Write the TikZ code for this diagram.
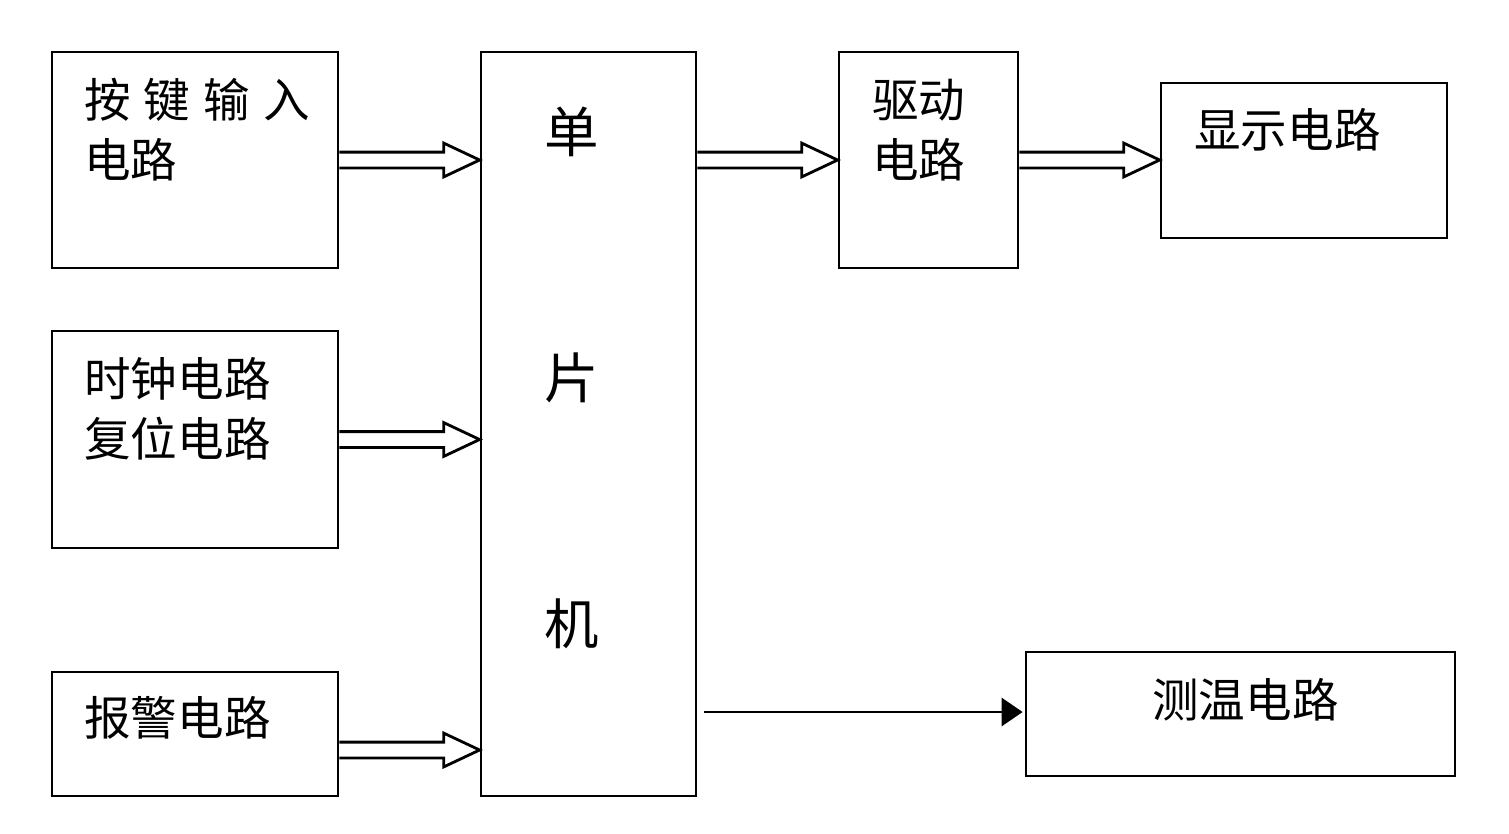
\documentclass[tikz,border=0pt]{standalone}
\usepackage{fontspec}
\newfontfamily\cn{Noto Sans CJK SC}
\usetikzlibrary{arrows.meta,calc}
\tikzset{box/.style={draw,line width=1.6pt,inner sep=0pt},
  txt/.style={inner sep=0pt,align=left,font=\cn\fontsize{26.5}{34}\selectfont},
  fat/.style={line width=1.6pt,line join=miter}}
% hollow block arrow from #1 to #2 (horizontal)
\newcommand\fatarrow[2]{\draw[fat] let \p1=(#1),\p2=(#2) in
  (\x1,\y1+4.5pt)--(\x2-20.4pt,\y1+4.5pt)--(\x2-20.4pt,\y1+9.6pt)--(\x2,\y1)
  --(\x2-20.4pt,\y1-9.6pt)--(\x2-20.4pt,\y1-4.5pt)--(\x1,\y1-4.5pt);}

\begin{document}
\begin{tikzpicture}[x=0.02cm,y=-0.02cm]
\useasboundingbox (0,0) rectangle (1509,833);
\node[box,minimum width=5.72cm,minimum height=4.32cm] (key) at (195,160){};
\node[box,minimum width=5.72cm,minimum height=4.34cm] (clk) at (195,439.5){};
\node[box,minimum width=5.72cm,minimum height=2.48cm] (alarm) at (195,734){};
\node[box,minimum width=4.3cm,minimum height=14.88cm] (mcu) at (588.5,424){};
\node[box,minimum width=3.58cm,minimum height=4.32cm] (drive) at (928.5,160){};
\node[box,minimum width=5.72cm,minimum height=3.1cm] (disp) at (1304,160.5){};
\node[box,minimum width=8.58cm,minimum height=2.48cm] (temp) at (1240.5,714){};
\node[txt,anchor=west] (keyt) at (84,130){按\hspace{0.28em}键\hspace{0.28em}输\hspace{0.28em}入\\电路};
\node[txt,anchor=west] (clkt) at (84,409){时钟电路\\复位电路};
\node[txt,anchor=west] (alarmt) at (84,718){报警电路};
\node[txt,align=center,font=\cn\fontsize{31}{140}\selectfont] (mcut) at (572,378){单\\片\\机};
\node[txt,anchor=west] (drivet) at (872,130){驱动\\电路};
\node[txt,anchor=west] (dispt) at (1194,130){显示电路};
\node[txt,anchor=west] (tempt) at (1152,700){测温电路};
\fatarrow{key.east}{mcu.west |- key.east}
\fatarrow{clk.east}{mcu.west |- clk.east}
\fatarrow{$(alarm.east)+(0,16)$}{$(mcu.west |- alarm.east)+(0,16)$}
\fatarrow{mcu.east |- drive.west}{drive.west}
\fatarrow{drive.east}{disp.west |- drive.east}
\draw[line width=1.6pt,-{Triangle[length=12pt,width=16pt]}] ($(mcu.east |- temp.west)+(7,-2)$) -- ($(temp.west)+(-2,-2)$);
\end{tikzpicture}
\end{document}
